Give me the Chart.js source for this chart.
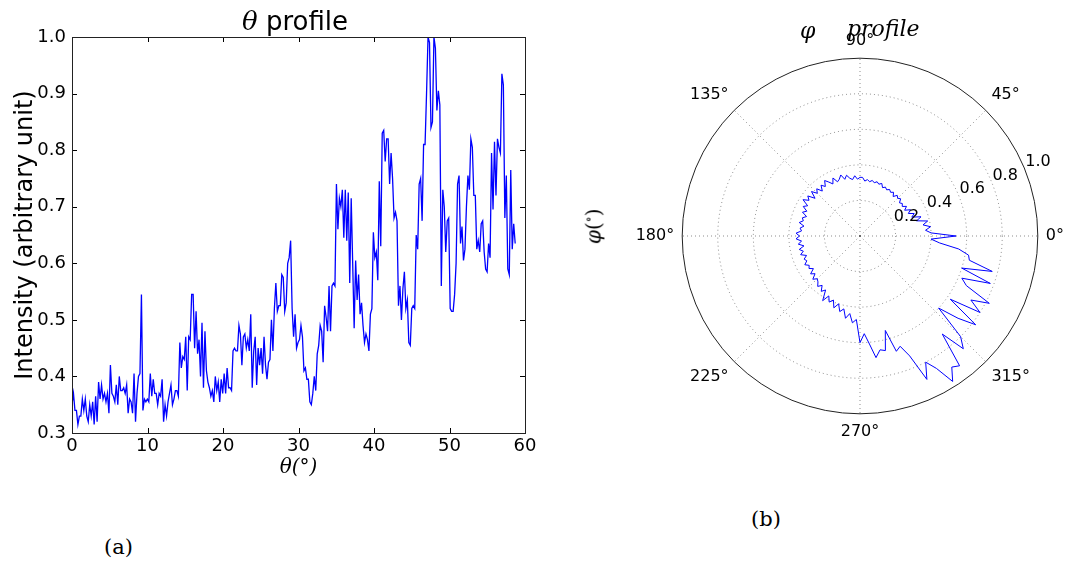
<!DOCTYPE html>
<html>
<head>
<meta charset="utf-8">
<script src="https://cdn.jsdelivr.net/npm/chart.js@4.4.1/dist/chart.umd.min.js"></script>
<style>
html, body { margin: 0; padding: 0; background: #fff; width: 1065px; height: 563px; overflow: hidden; position: relative; }
canvas { position: absolute; }
.t { position: absolute; white-space: nowrap; color: #000; line-height: 1; }
.serif { font-family: "DejaVu Serif", "Liberation Serif", serif; }
.sans { font-family: "DejaVu Sans", sans-serif; }
</style>
</head>
<body>
<canvas id="thetaChart" width="545" height="480" style="left:0;top:0"></canvas>
<canvas id="phiChart" width="520" height="411" style="left:600px;top:31px"></canvas>

<div class="t sans" style="left:242px;top:8px;font-size:26px"><span class="serif" style="font-style:italic">θ</span> profile</div>
<div class="t serif" style="left:800px;top:20px;font-size:22px;font-style:italic">φ</div>
<div class="t serif" style="left:847px;top:18px;font-size:22px;font-style:italic">profile</div>
<div class="t serif" style="left:575px;top:216px;font-size:20px;transform:rotate(-90deg);transform-origin:center"><i>φ</i>(<sup style="font-size:12px">∘</sup>)</div>
<div class="t serif" style="left:104px;top:537px;font-size:21px">(a)</div>
<div class="t serif" style="left:751px;top:509px;font-size:21px">(b)</div>

<script>
// theta profile, sampled evenly from 0 to 58.7 deg
const thetaEnd = 58.7;
const thetaProfile = [
  0.35, 0.37, 0.34, 0.34, 0.315, 0.33,
  0.33, 0.36, 0.34, 0.36, 0.33,
  0.32, 0.35, 0.33, 0.355, 0.315,
  0.365, 0.32, 0.39, 0.36, 0.385, 0.36,
  0.37, 0.355, 0.37, 0.335, 0.42,
  0.37, 0.365, 0.355, 0.385, 0.35,
  0.40, 0.375, 0.375, 0.38, 0.37,
  0.385, 0.335, 0.36, 0.355, 0.335, 0.405,
  0.32, 0.37, 0.40, 0.405, 0.545,
  0.34, 0.36, 0.355, 0.36, 0.355,
  0.405, 0.365, 0.395, 0.37, 0.37,
  0.35, 0.37, 0.365, 0.395, 0.32,
  0.35, 0.33, 0.355, 0.37,
  0.385, 0.35, 0.36, 0.375,
  0.375, 0.365, 0.46, 0.415, 0.435,
  0.43, 0.47, 0.375, 0.47, 0.465,
  0.545, 0.545, 0.45, 0.515, 0.44,
  0.465, 0.40, 0.495, 0.38, 0.48,
  0.41, 0.39, 0.38, 0.365, 0.375, 0.355,
  0.40, 0.375, 0.39, 0.355, 0.395,
  0.37, 0.405, 0.37, 0.415, 0.38,
  0.38, 0.375, 0.445, 0.45, 0.445,
  0.445, 0.49, 0.475, 0.42, 0.47,
  0.475, 0.45, 0.465, 0.445, 0.51,
  0.38, 0.445, 0.47, 0.385, 0.45,
  0.42, 0.45, 0.405, 0.47, 0.42,
  0.395, 0.425, 0.43, 0.50, 0.445,
  0.52, 0.565, 0.515, 0.525, 0.525,
  0.58, 0.575, 0.515, 0.53, 0.60,
  0.61, 0.64, 0.52, 0.47, 0.51,
  0.45, 0.46, 0.465, 0.49, 0.47,
  0.41, 0.415, 0.395, 0.395, 0.355, 0.35,
  0.37, 0.40, 0.375, 0.44, 0.455,
  0.49, 0.48, 0.425, 0.525, 0.505,
  0.48, 0.56, 0.48, 0.56, 0.565,
  0.56, 0.74, 0.66, 0.715, 0.70, 0.73,
  0.645, 0.73, 0.64, 0.725, 0.565,
  0.715, 0.60, 0.485, 0.605, 0.535,
  0.58, 0.51, 0.53, 0.49, 0.46,
  0.475, 0.465, 0.445, 0.51, 0.52,
  0.655, 0.61, 0.62, 0.57, 0.745,
  0.63, 0.83, 0.835, 0.78, 0.82,
  0.82, 0.74, 0.795, 0.75, 0.68, 0.69,
  0.675, 0.525, 0.56, 0.50, 0.555,
  0.585, 0.52, 0.535, 0.46, 0.455,
  0.52, 0.525, 0.52, 0.65, 0.625,
  0.74, 0.75, 0.675, 0.81, 0.81,
  0.90, 1.0, 0.99, 0.84, 0.85,
  1.0, 0.98, 0.87, 0.905, 0.88,
  0.56, 0.73, 0.70, 0.62, 0.675,
  0.68, 0.52, 0.515, 0.515, 0.545,
  0.60, 0.74, 0.755, 0.635, 0.665,
  0.605, 0.625, 0.70, 0.755, 0.73,
  0.82, 0.805, 0.72, 0.72, 0.625,
  0.64, 0.62, 0.67, 0.675, 0.62,
  0.59, 0.585, 0.635, 0.61, 0.795,
  0.695, 0.815, 0.72, 0.82, 0.805,
  0.795, 0.935, 0.915, 0.68, 0.755,
  0.59, 0.58, 0.765, 0.625, 0.67, 0.635
];
const thetaTicks = [0, 10, 20, 30, 40, 50, 60];
const intensityTicks = [0.3, 0.4, 0.5, 0.6, 0.7, 0.8, 0.9, 1.0];

// phi profile, one value every 2.5 deg starting at 0 deg (counter-clockwise)
const phiStep = 2.5;
const phiProfile = [
  0.54, 0.40, 0.37, 0.40, 0.36, 0.39, 0.33, 0.36, 0.31, 0.33,
  0.30, 0.32, 0.29, 0.31, 0.29, 0.30, 0.29, 0.31, 0.30, 0.31,
  0.29, 0.31, 0.30, 0.31, 0.30, 0.31, 0.30, 0.32, 0.31, 0.32,
  0.31, 0.32, 0.31, 0.32, 0.31, 0.33, 0.33, 0.32, 0.34, 0.32,
  0.33, 0.35, 0.33, 0.36, 0.34, 0.33, 0.36, 0.33, 0.35, 0.37,
  0.34, 0.36, 0.33, 0.36, 0.34, 0.37, 0.33, 0.37, 0.35, 0.38,
  0.34, 0.36, 0.33, 0.35, 0.32, 0.34, 0.33, 0.35, 0.32, 0.34,
  0.33, 0.36, 0.34, 0.36, 0.33, 0.35, 0.32, 0.35, 0.33, 0.35,
  0.32, 0.34, 0.33, 0.35, 0.33, 0.34, 0.32, 0.35, 0.33, 0.36,
  0.34, 0.35, 0.37, 0.35, 0.38, 0.36, 0.42, 0.38, 0.41, 0.39,
  0.43, 0.40, 0.44, 0.42, 0.47, 0.44, 0.49, 0.47, 0.60, 0.55,
  0.61, 0.69, 0.65, 0.66, 0.55, 0.68, 0.66, 0.73, 0.89, 0.80,
  0.86, 0.97, 0.90, 0.92, 0.72, 0.86, 0.80, 0.60, 0.72, 0.82,
  0.62, 0.80, 0.72, 0.82, 0.66, 0.62, 0.78, 0.60, 0.77, 0.63,
  0.62, 0.56, 0.45, 0.40
];
const radiusTicks = [0, 0.2, 0.4, 0.6, 0.8, 1.0];
const tickLabelAngle = 22.5;

const sansFont = "DejaVu Sans";
const blue = "#0000ff";

// ---- left chart: theta profile ----
const thetaStep = thetaEnd / (thetaProfile.length - 1);
const thetaPoints = thetaProfile.map((v, i) => ({ x: i * thetaStep, y: v }));

const boxPlugin = {
  id: "box",
  afterDraw(chart) {
    const { ctx, chartArea: a, scales } = chart;
    ctx.save();
    ctx.strokeStyle = "#000";
    ctx.lineWidth = 1;
    // inner tick marks on all four sides
    ctx.beginPath();
    thetaTicks.forEach(t => {
      const x = Math.round(scales.x.getPixelForValue(t)) + 0.5;
      ctx.moveTo(x, a.bottom); ctx.lineTo(x, a.bottom - 5);
      ctx.moveTo(x, a.top); ctx.lineTo(x, a.top + 5);
    });
    intensityTicks.forEach(t => {
      const y = Math.round(scales.y.getPixelForValue(t)) + 0.5;
      ctx.moveTo(a.left, y); ctx.lineTo(a.left + 5, y);
      ctx.moveTo(a.right, y); ctx.lineTo(a.right - 5, y);
    });
    ctx.stroke();
    ctx.strokeStyle = "#222";
    ctx.strokeRect(Math.round(a.left) + 0.5, Math.round(a.top) + 0.5,
      Math.round(a.right - a.left), Math.round(a.bottom - a.top));
    ctx.restore();
  }
};

new Chart(document.getElementById("thetaChart"), {
  type: "line",
  data: {
    datasets: [{
      data: thetaPoints,
      borderColor: blue,
      borderWidth: 1.3,
      pointRadius: 0,
      tension: 0,
      fill: false
    }]
  },
  options: {
    responsive: false,
    animation: false,
    devicePixelRatio: 1,
    layout: { padding: { top: 37, right: 20, left: 0, bottom: 0 } },
    plugins: { legend: { display: false }, tooltip: { enabled: false } },
    scales: {
      x: {
        type: "linear",
        min: 0,
        max: 60,
        afterBuildTicks: s => { s.ticks = thetaTicks.map(v => ({ value: v })); },
        afterFit: s => { s.height = 47; },
        grid: { display: false, drawTicks: false },
        border: { display: false },
        ticks: { color: "#000", padding: 3, maxRotation: 0, font: { family: sansFont, size: 18 } },
        title: {
          display: true,
          text: "θ(°)",
          color: "#000",
          padding: { top: 0, bottom: 0 },
          font: { family: "DejaVu Serif", style: "italic", size: 20 }
        }
      },
      y: {
        min: 0.3,
        max: 1.0,
        afterBuildTicks: s => { s.ticks = intensityTicks.map(v => ({ value: v })); },
        afterFit: s => { s.width = 72; },
        grid: { display: false, drawTicks: false },
        border: { display: false },
        ticks: {
          color: "#000",
          padding: 6,
          font: { family: sansFont, size: 18 },
          callback: v => v.toFixed(1)
        },
        title: {
          display: true,
          text: "Intensity (arbitrary unit)",
          color: "#000",
          padding: { top: 11, bottom: 0 },
          font: { family: sansFont, size: 24 }
        }
      }
    }
  },
  plugins: [boxPlugin]
});

// ---- right chart: phi profile (radar drawn clockwise from 0 deg, so feed it in reverse) ----
const phiDeg = phiProfile.map((_, i) => i * phiStep);
const order = phiProfile.map((_, j) => (phiProfile.length - j) % phiProfile.length);
const radarLabels = order.map(k => phiDeg[k]);
const radarValues = order.map(k => phiProfile[k]);
const spokeEvery = 45 / phiStep;

const radialTickPlugin = {
  id: "radialTicks",
  afterDraw(chart) {
    const scale = chart.scales.r;
    const idx = radarLabels.indexOf(tickLabelAngle);
    const ctx = chart.ctx;
    ctx.save();
    ctx.fillStyle = "#000";
    ctx.font = "16px " + sansFont;
    ctx.textAlign = "left";
    ctx.textBaseline = "bottom";
    radiusTicks.forEach(v => {
      if (v === 0) return;
      const p = scale.getPointPositionForValue(idx, v);
      ctx.fillText(v.toFixed(1), p.x + 1, p.y + 2);
    });
    ctx.restore();
  }
};

new Chart(document.getElementById("phiChart"), {
  type: "radar",
  data: {
    labels: radarLabels,
    datasets: [{
      data: radarValues,
      borderColor: blue,
      borderWidth: 1,
      pointRadius: 0,
      fill: false,
      tension: 0
    }]
  },
  options: {
    responsive: false,
    animation: false,
    devicePixelRatio: 1,
    plugins: { legend: { display: false }, tooltip: { enabled: false } },
    scales: {
      r: {
        min: 0,
        max: 1,
        startAngle: 90,
        ticks: { display: false, stepSize: 0.2 },
        grid: {
          circular: true,
          color: c => (c.tick && c.tick.value >= 1 ? "#222" : "rgba(0,0,0,0.45)"),
          lineWidth: 1
        },
        border: { dash: c => (c.tick && c.tick.value >= 1 ? [] : [1, 3]) },
        angleLines: {
          display: true,
          color: "rgba(0,0,0,0.45)",
          lineWidth: c => (c.index % spokeEvery === 0 ? 1 : 0),
          borderDash: [1, 3]
        },
        pointLabels: {
          color: "#000",
          padding: 8,
          font: { family: sansFont, size: 16 },
          callback: lab => (lab % 45 === 0 ? lab + "°" : "")
        }
      }
    }
  },
  plugins: [radialTickPlugin]
});
</script>
</body>
</html>
